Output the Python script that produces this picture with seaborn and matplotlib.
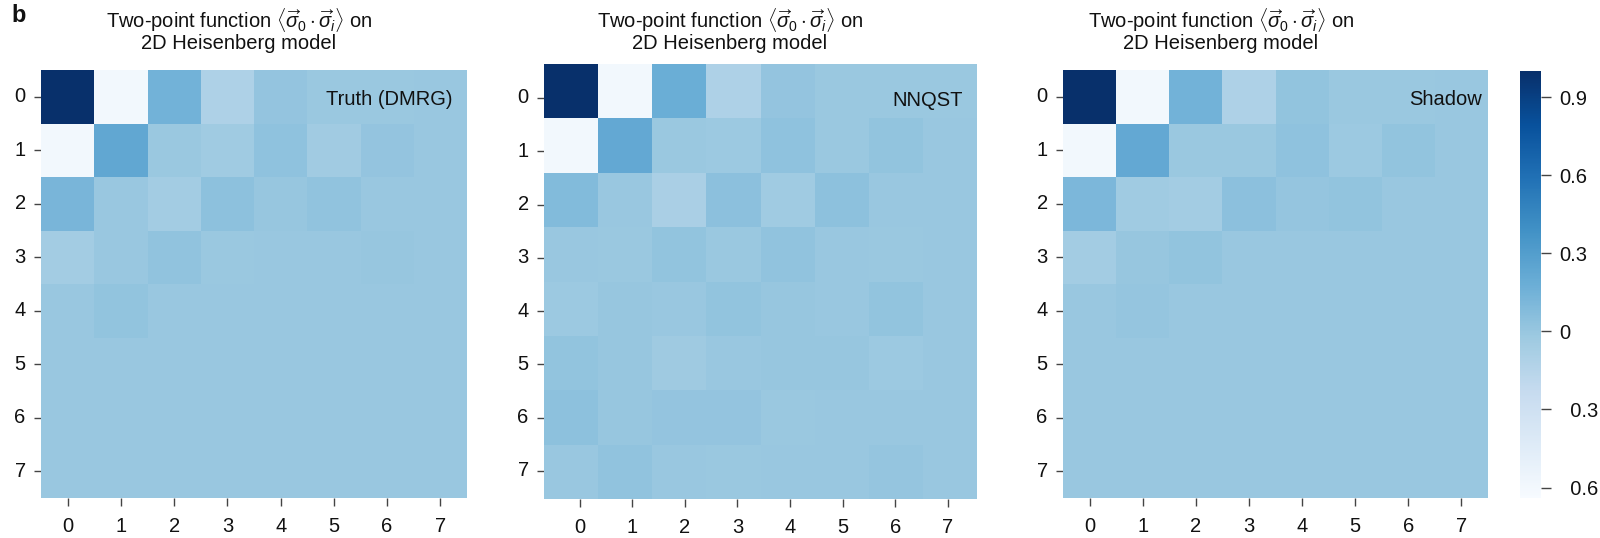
import numpy as np
import matplotlib
matplotlib.use("Agg")
import matplotlib.pyplot as plt
import seaborn as sns

sns.set_style("white")
plt.rcParams['font.family'] = ['Liberation Sans', 'DejaVu Sans']
plt.rcParams['mathtext.fontset'] = 'custom'
plt.rcParams['mathtext.rm'] = 'Liberation Sans'
plt.rcParams['mathtext.it'] = 'Liberation Sans:italic'
plt.rcParams['mathtext.bf'] = 'Liberation Sans:bold'

# ---------------- data ----------------
sites = list(range(8))
tick_labels = [str(i) for i in sites]

truth = [
    [1.00, -0.60, 0.15, -0.105, 0.015, -0.010, -0.010, 0.000],
    [-0.60, 0.23, -0.008, -0.035, 0.035, -0.040, 0.018, -0.005],
    [0.124, -0.005, -0.045, 0.040, 0.005, 0.030, 0.000, 0.000],
    [-0.050, 0.000, 0.030, -0.010, 0.000, 0.000, 0.003, 0.000],
    [0.000, 0.020, 0.000, 0.000, 0.000, 0.000, 0.000, 0.000],
    [0.000, 0.000, 0.000, 0.000, 0.000, 0.000, 0.000, 0.000],
    [0.000, 0.000, 0.000, 0.000, 0.000, 0.000, 0.000, 0.000],
    [0.000, 0.000, 0.000, 0.000, 0.000, 0.000, 0.000, 0.000],
]

nnqst = [
    [1.00, -0.60, 0.18, -0.105, 0.015, -0.010, -0.010, -0.010],
    [-0.60, 0.22, -0.010, -0.015, 0.035, -0.010, 0.020, -0.005],
    [0.090, 0.000, -0.085, 0.050, -0.035, 0.040, 0.000, 0.000],
    [-0.005, -0.010, 0.025, -0.008, 0.030, 0.000, -0.008, 0.000],
    [-0.015, 0.005, -0.005, 0.020, 0.005, -0.005, 0.020, 0.000],
    [0.020, 0.005, -0.025, 0.000, 0.005, 0.005, -0.015, -0.005],
    [0.040, 0.005, 0.015, 0.015, -0.008, 0.000, 0.000, 0.000],
    [0.000, 0.030, 0.000, -0.008, 0.000, 0.000, 0.008, 0.000],
]

shadow = [
    [1.00, -0.60, 0.15, -0.105, 0.020, -0.010, -0.010, 0.000],
    [-0.60, 0.22, -0.008, -0.008, 0.035, -0.015, 0.020, 0.000],
    [0.110, -0.035, -0.045, 0.050, 0.008, 0.025, 0.000, 0.000],
    [-0.045, 0.003, 0.025, -0.005, 0.000, 0.000, -0.003, 0.000],
    [0.000, 0.010, -0.005, 0.000, 0.000, 0.000, 0.000, 0.000],
    [0.000, -0.003, 0.000, 0.000, 0.000, 0.000, 0.000, 0.000],
    [0.000, 0.000, 0.000, 0.000, 0.000, 0.000, 0.000, 0.000],
    [0.000, 0.000, 0.000, 0.000, 0.000, 0.000, 0.000, 0.000],
]

panel_names = ["Truth (DMRG)", "NNQST", "Shadow"]
cbar_ticks = [0.9, 0.6, 0.3, 0.0, -0.3, -0.6]
cbar_ticklabels = ["0.9", "0.6", "0.3", "0", "  0.3", "  0.6"]
title_line1 = r"Two-point function $\langle\overrightarrow{\sigma}_0\cdot\overrightarrow{\sigma}_i\rangle$ on"
title_line2 = "2D Heisenberg model"

# ---------------- layout ----------------
W, H = 1600, 538
fig = plt.figure(figsize=(W / 100, H / 100), dpi=100)

def box(x0, y0, x1, y1):
    return [x0 / W, 1 - y1 / H, (x1 - x0) / W, (y1 - y0) / H]

ax_boxes = [box(41, 70, 467, 498), box(544, 64, 977, 499), box(1063, 70, 1488, 498)]
cax = fig.add_axes(box(1520, 71, 1541, 498))
label_pos = [(0.967, 0.93), (0.968, 0.917), (0.986, 0.93)]
title_cx = [239, 730, 1221]
# in the middle panel the image sits slightly off its tick grid (as in the original)
tick_shift = [(0.5, 1.0, 0.5, 1.0), (0.658, 0.972, 0.625, 0.980), (0.5, 1.0, 0.5, 1.0)]

FS = 14.5
datasets = [truth, nnqst, shadow]
for i, (data, name) in enumerate(zip(datasets, panel_names)):
    ax = fig.add_axes(ax_boxes[i])
    last = (i == 2)
    sns.heatmap(np.array(data), ax=ax, cmap="Blues", vmin=-0.64, vmax=1.0,
                cbar=last, cbar_ax=cax if last else None,
                xticklabels=tick_labels, yticklabels=tick_labels,
                linewidths=0)
    x0, dx, y0, dy = tick_shift[i]
    ax.set_xticks([x0 + dx * k for k in sites])
    ax.set_yticks([y0 + dy * k for k in sites])
    ax.set_xticklabels(tick_labels, rotation=0)
    ax.set_yticklabels(tick_labels, rotation=0)
    ax.tick_params(axis='both', which='both', length=5, width=1, color='#444444',
                   labelsize=FS, pad=6, labelcolor='#111111', bottom=True, left=True)
    ax.tick_params(axis='x', length=6, pad=8)
    ax.text(label_pos[i][0], label_pos[i][1], name, transform=ax.transAxes,
            ha='right', va='center', fontsize=FS, color='#111111')
    cx = title_cx[i] / W
    fig.text(cx, 1 - 28 / H, title_line1, ha='center', va='baseline', fontsize=FS, color='#111111')
    fig.text(cx, 1 - 49 / H, title_line2, ha='center', va='baseline', fontsize=FS, color='#111111')

cax.set_yticks(cbar_ticks)
cax.set_yticklabels(cbar_ticklabels)
cax.tick_params(axis='y', length=7, width=1, color='#444444', labelsize=FS, pad=6,
                labelcolor='#111111', right=True)
for s in cax.spines.values():
    s.set_visible(False)

fig.text(19 / W, 1 - 16 / H, "b", ha='center', va='center', fontsize=17, fontweight='bold', color='#111111')

fig.savefig("out.png", dpi=100)
